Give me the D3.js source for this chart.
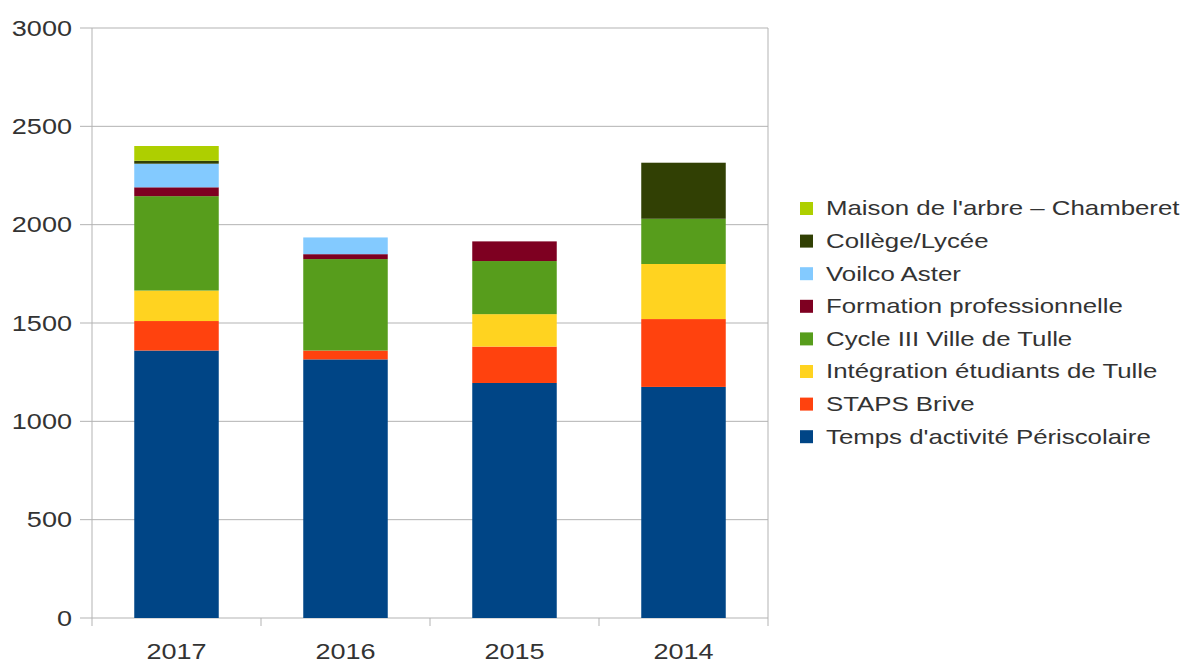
<!DOCTYPE html>
<html><head><meta charset="utf-8">
<script src="https://cdn.jsdelivr.net/npm/d3@7"></script>
<style>body{margin:0;background:#fff;} text{font-family:"Liberation Sans",Arial,sans-serif;fill:#333;}</style>
</head><body>
<svg id="c" width="1185" height="663"></svg>
<script>
const categories = ["2017","2016","2015","2014"];
const seriesNames = ["Temps d'activité Périscolaire","STAPS Brive","Intégration étudiants de Tulle","Cycle III Ville de Tulle","Formation professionnelle","Voilco Aster","Collège/Lycée","Maison de l'arbre – Chamberet"];
const temps = [1360,1315,1195,1175];
const staps = [150,45,185,345];
const integration = [155,0,165,280];
const cycle3 = [480,465,270,230];
const formation = [45,25,100,0];
const voilco = [120,85,0,0];
const college = [15,0,0,285];
const maison = [75,0,0,0];
const colors = ["#004586","#ff420e","#ffd320","#579d1c","#7e0021","#83caff","#314004","#aecf00"];
const yTicks = [0,500,1000,1500,2000,2500,3000];

const seriesValues = [temps,staps,integration,cycle3,formation,voilco,college,maison];
const rows = categories.map((c,i)=>{const r={cat:c}; seriesNames.forEach((s,j)=>r[s]=seriesValues[j][i]); return r;});
const stack = d3.stack().keys(seriesNames)(rows);

const svg = d3.select("#c");
const L=92,R=768,T=28,B=618;
const SX=1.23;
const x = d3.scaleBand().domain(categories).range([L,R]).paddingInner(0.5).paddingOuter(0.25);
const xb = d3.scaleBand().domain(categories).range([L,R]);
const y = d3.scaleLinear().domain([0,3000]).range([B,T]);

// grid
svg.append("g").selectAll("line").data(yTicks).join("line")
 .attr("x1",L-12).attr("x2",R).attr("y1",d=>y(d)).attr("y2",d=>y(d))
 .attr("stroke","#b3b3b3").attr("stroke-width",1);
svg.append("line").attr("x1",L).attr("x2",L).attr("y1",T).attr("y2",B+8).attr("stroke","#b3b3b3");
svg.append("line").attr("x1",R).attr("x2",R).attr("y1",T).attr("y2",B+8).attr("stroke","#b3b3b3");
svg.append("g").selectAll("line").data(categories.slice(1)).join("line")
 .attr("x1",d=>xb(d)).attr("x2",d=>xb(d)).attr("y1",B).attr("y2",B+8).attr("stroke","#b3b3b3");

// y labels
svg.append("g").selectAll("text").data(yTicks).join("text")
 .attr("transform",d=>`translate(72,${y(d)}) scale(${SX},1)`).attr("dy","0.35em").attr("text-anchor","end")
 .style("font-size","22px").text(d=>d);
// x labels
svg.append("g").selectAll("text").data(categories).join("text")
 .attr("transform",d=>`translate(${xb(d)+xb.bandwidth()/2},${B+41}) scale(${SX},1)`).attr("text-anchor","middle")
 .style("font-size","22px").text(d=>d);

// bars
svg.append("g").selectAll("g").data(stack).join("g").attr("fill",(d,i)=>colors[i])
 .selectAll("rect").data(d=>d).join("rect")
 .attr("x",d=>x(d.data.cat)).attr("width",x.bandwidth())
 .attr("y",d=>y(d[1])).attr("height",d=>y(d[0])-y(d[1]));

// legend
const lg = svg.append("g");
const order = seriesNames.slice().reverse();
const oc = colors.slice().reverse();
order.forEach((s,i)=>{
  const yy = 208 + i*32.6;
  lg.append("rect").attr("x",800).attr("y",yy-6).attr("width",13).attr("height",13).attr("fill",oc[i]);
  lg.append("text").attr("transform",`translate(826,${yy}) scale(${SX},1)`).attr("dy","0.35em").style("font-size","21px").text(s);
});
</script>
</body></html>
